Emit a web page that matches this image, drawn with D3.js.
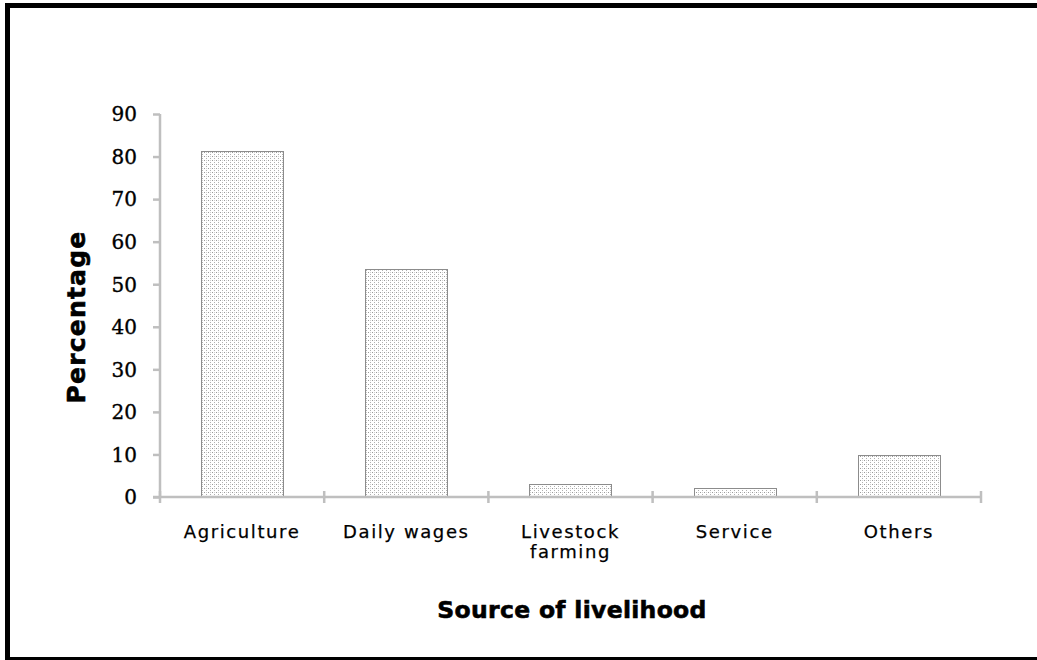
<!DOCTYPE html>
<html>
<head>
<meta charset="utf-8">
<script src="https://cdn.jsdelivr.net/npm/d3@7"></script>
<style>
  html, body { margin: 0; padding: 0; background: #fff; overflow: hidden; }
  svg { display: block; }
</style>
</head>
<body>
<svg id="chart" width="1037" height="660"></svg>
<script>
// Share of households by main source of livelihood
const categories = ["Agriculture", "Daily wages", "Livestock\nfarming", "Service", "Others"];
const percentages = [81.2, 53.5, 3.1, 2.2, 9.9];
const yTicks = [0, 10, 20, 30, 40, 50, 60, 70, 80, 90];

const svg = d3.select("#chart");
const W = 1037, H = 660;
const plot = { left: 160, right: 981, top: 114, bottom: 497 };

// outer frame: left, top and bottom edges
const frame = svg.append("g").attr("stroke", "#000").attr("fill", "none");
frame.append("path").attr("stroke-width", 5)
  .attr("d", `M${W + 5},5.5H7.5V${H + 5}`);
frame.append("line").attr("stroke-width", 4)
  .attr("x1", 5).attr("x2", W + 5).attr("y1", 659).attr("y2", 659);

// dotted fill for bars
const defs = svg.append("defs");
const pat = defs.append("pattern")
  .attr("id", "dots").attr("patternUnits", "userSpaceOnUse")
  .attr("width", 4).attr("height", 4);
pat.append("rect").attr("width", 4).attr("height", 4).attr("fill", "#fff");
pat.append("rect").attr("x", 0).attr("y", 0).attr("width", 1).attr("height", 1).attr("fill", "#9a9a9a");
pat.append("rect").attr("x", 2).attr("y", 2).attr("width", 1).attr("height", 1).attr("fill", "#b0b0b0");
pat.append("rect").attr("x", 2).attr("y", 0).attr("width", 1).attr("height", 1).attr("fill", "#d0d0d0");

const x = d3.scaleBand().domain(categories).range([plot.left, plot.right]).paddingInner(0.5).paddingOuter(0.25);
const y = d3.scaleLinear().domain([0, 90]).range([plot.bottom, plot.top]);

// bars
svg.append("g").selectAll("rect")
  .data(categories)
  .join("rect")
  .attr("x", d => Math.round(x(d)) + 0.5)
  .attr("y", (d, i) => Math.round(y(percentages[i])) + 0.5)
  .attr("width", Math.round(x.bandwidth()))
  .attr("height", (d, i) => Math.round(y(0)) - Math.round(y(percentages[i])))
  .attr("fill", "url(#dots)")
  .attr("stroke", "#8c8c8c").attr("stroke-width", 1);

// y axis
const yAxis = svg.append("g")
  .attr("transform", `translate(${plot.left},0)`)
  .call(d3.axisLeft(y).tickValues(yTicks).tickSize(7).tickPadding(16));
yAxis.select(".domain").attr("stroke", "#bfbfbf").attr("stroke-width", 2.5)
  .attr("d", `M0,${plot.top}V${plot.bottom}`);
yAxis.selectAll(".tick line").attr("stroke", "#bfbfbf").attr("stroke-width", 2.5);
yAxis.selectAll(".tick text")
  .attr("font-family", "'DejaVu Serif', serif").attr("font-size", 20)
  .attr("fill", "#000").attr("stroke", "#000").attr("stroke-width", 0.35)
  .attr("dy", "0.34em");

// x axis: straight line with boundary ticks between categories
const xg = svg.append("g");
xg.append("line")
  .attr("x1", plot.left - 7).attr("x2", plot.right)
  .attr("y1", plot.bottom).attr("y2", plot.bottom)
  .attr("stroke", "#bfbfbf").attr("stroke-width", 2.5);
const step = x.step();
const bounds = d3.range(categories.length + 1).map(i => plot.left + i * step);
xg.selectAll(".bt").data(bounds).join("line")
  .attr("x1", d => d).attr("x2", d => d)
  .attr("y1", plot.bottom - 6).attr("y2", plot.bottom + 6)
  .attr("stroke", "#bfbfbf").attr("stroke-width", 2.5);

// category labels
const lab = svg.append("g").selectAll("text")
  .data(categories).join("text")
  .attr("x", d => x(d) + x.bandwidth() / 2)
  .attr("y", 538)
  .attr("text-anchor", "middle")
  .attr("font-family", "'DejaVu Sans', Verdana, sans-serif")
  .attr("font-size", 18).attr("letter-spacing", 1.6)
  .attr("fill", "#000").attr("stroke", "#000").attr("stroke-width", 0.25);
lab.each(function(d) {
  const lines = d.split("\n");
  d3.select(this).selectAll("tspan").data(lines).join("tspan")
    .attr("x", x(d) + x.bandwidth() / 2)
    .attr("dy", (l, i) => i === 0 ? 0 : 20)
    .text(l => l);
});

// axis titles
svg.append("text")
  .attr("transform", "translate(85,317) rotate(-90)")
  .attr("text-anchor", "middle")
  .attr("font-family", "'DejaVu Sans', Verdana, sans-serif")
  .attr("font-weight", "bold").attr("font-size", 25).attr("letter-spacing", 1.2)
  .attr("stroke", "#000").attr("stroke-width", 0.6)
  .text("Percentage");

svg.append("text")
  .attr("x", 572).attr("y", 618)
  .attr("text-anchor", "middle")
  .attr("font-family", "'DejaVu Sans', Verdana, sans-serif")
  .attr("font-weight", "bold").attr("font-size", 23.5).attr("letter-spacing", 0.3)
  .attr("stroke", "#000").attr("stroke-width", 0.6)
  .text("Source of livelihood");
</script>
</body>
</html>
